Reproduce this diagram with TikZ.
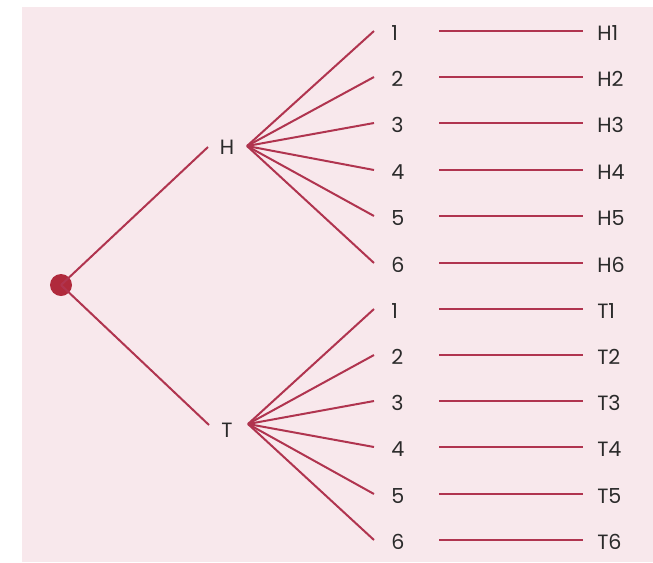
\documentclass[tikz,border=0pt]{standalone}
\usepackage{fontspec}
\setmainfont{Poppins}
\definecolor{bgpink}{HTML}{F8E8EC}
\definecolor{branch}{HTML}{B0344F}
\definecolor{dotred}{HTML}{B02A3C}
\definecolor{ink}{HTML}{2A2A2A}
\begin{document}
\begin{tikzpicture}[x=0.75pt,y=-0.75pt,
  lbl/.style={inner sep=0pt,font=\fontsize{15.5}{15.5}\selectfont,text=ink},
  dig/.style={lbl,anchor=west},
  res/.style={lbl,anchor=west},
  edge/.style={draw=branch,line width=1.5pt},
  outc/.style={draw=branch,line width=1.7pt}]
\useasboundingbox (0,0) rectangle (653,562);
\fill[white] (0,0) rectangle (653,562);
\fill[bgpink] (22,7) rectangle (653,562);
% root
\node[circle,fill=dotred,inner sep=0pt,minimum size=16.5pt] (root) at (61,285) {};
% H and T
\node[lbl] (H) at (227,147) {H};
\node[lbl] (T) at (227,430) {T};
\coordinate (Hin) at (208,147);
\coordinate (Hout) at (247,146);
\coordinate (Tin) at (209,425);
\coordinate (Tout) at (248,424);
\draw[edge] (root.center) -- (Hin);
\draw[edge] (root.center) -- (Tin);
% H branch
\foreach \i/\y in {1/33,2/79,3/125,4/172,5/218,6/265}{
  \node[dig] (h\i) at (391,\y) {\i};
  \node[res] (hr\i) at (597,\y) {H\i};
  \draw[edge] (Hout) -- ([xshift=-12.75pt,yshift=1.5pt]h\i.west);
  \draw[outc] ([xshift=36pt,yshift=1.5pt]h\i.west) -- ([xshift=-10.5pt,yshift=1.5pt]hr\i.west);
}
% T branch
\foreach \i/\y in {1/311,2/357,3/403,4/449,5/496,6/542}{
  \node[dig] (t\i) at (391,\y) {\i};
  \node[res] (tr\i) at (597,\y) {T\i};
  \draw[edge] (Tout) -- ([xshift=-12.75pt,yshift=1.5pt]t\i.west);
  \draw[outc] ([xshift=36pt,yshift=1.5pt]t\i.west) -- ([xshift=-10.5pt,yshift=1.5pt]tr\i.west);
}
\end{tikzpicture}
\end{document}
